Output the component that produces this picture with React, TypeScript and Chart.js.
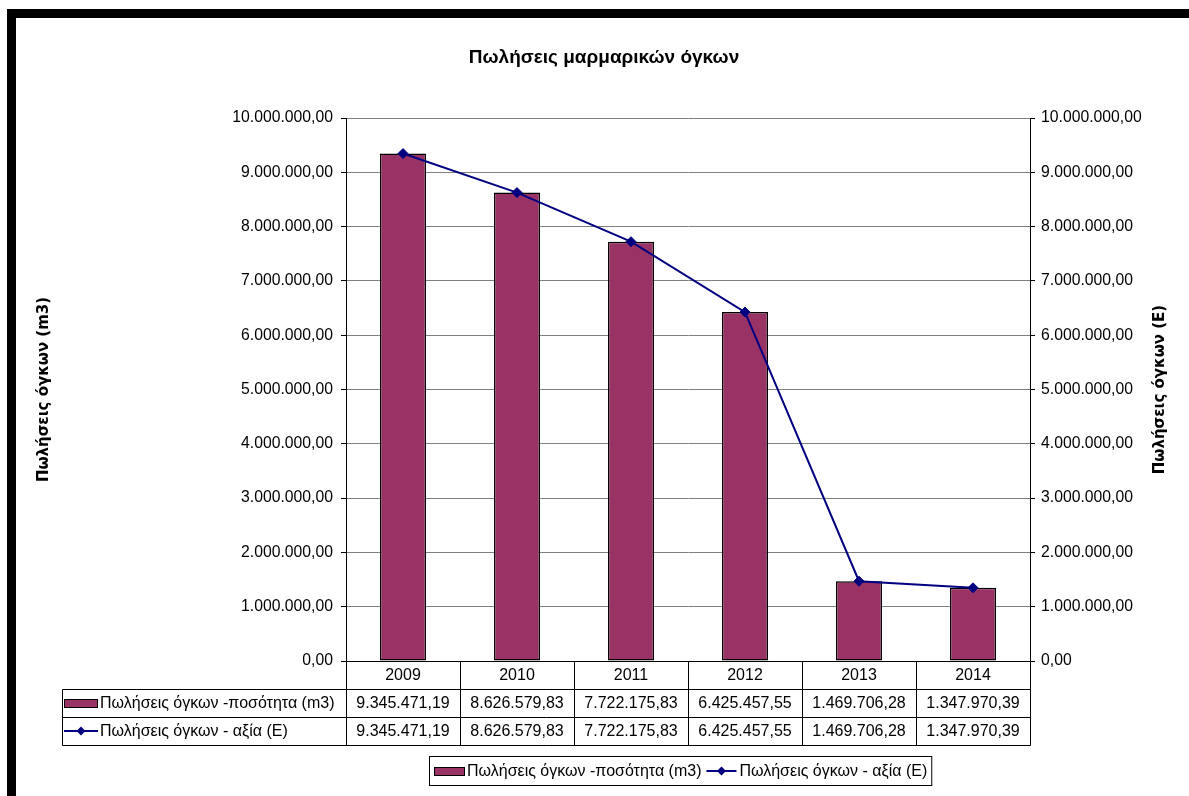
import React, { useEffect, useRef } from 'react';
import { Chart, registerables } from 'chart.js';

Chart.register(...registerables);

const categories = ['2009', '2010', '2011', '2012', '2013', '2014'];
const quantityValues = [9345471.19, 8626579.83, 7722175.83, 6425457.55, 1469706.28, 1347970.39];
const valueValues = [9345471.19, 8626579.83, 7722175.83, 6425457.55, 1469706.28, 1347970.39];

const axisMin = 0;
const axisMax = 10000000;
const axisStep = 1000000;

const chartTitle = 'Πωλήσεις μαρμαρικών όγκων';
const leftAxisTitle = 'Πωλήσεις όγκων (m3)';
const rightAxisTitle = 'Πωλήσεις όγκων (Ε)';
const quantityLabel = 'Πωλήσεις όγκων -ποσότητα (m3)';
const valueLabel = 'Πωλήσεις όγκων - αξία (Ε)';

const BAR_COLOR = '#993366';
const LINE_COLOR = '#000080';
const FONT = '"Liberation Sans", Arial, sans-serif';
const TITLE_FONT = '"DejaVu Sans", Verdana, sans-serif';

function fmt(v: number): string {
  const [i, d] = Math.abs(v).toFixed(2).split('.');
  return (v < 0 ? '-' : '') + i.replace(/\B(?=(\d{3})+(?!\d))/g, '.') + ',' + d;
}

const decorPlugin = {
  id: 'decor',
  beforeDraw(chart: any) {
    const ctx = chart.ctx;
    ctx.save();
    ctx.fillStyle = '#ffffff';
    ctx.fillRect(0, 0, chart.width, chart.height);
    ctx.fillStyle = '#000000';
    ctx.fillRect(7, 9, chart.width - 7, 9);
    ctx.fillRect(7, 9, 9, chart.height - 9);
    ctx.restore();
  },
  afterDraw(chart: any) {
    const ctx = chart.ctx;
    const area = chart.chartArea;
    const xs = chart.scales.x;
    const n = categories.length;
    const ds = chart.data.datasets;

    // chart title
    ctx.save();
    ctx.fillStyle = '#000000';
    ctx.font = 'bold 19px ' + FONT;
    ctx.textAlign = 'center';
    ctx.textBaseline = 'middle';
    ctx.fillText(chartTitle, 604, 58);
    ctx.restore();

    // column boundaries from the category scale
    const centers = categories.map((_, i) => xs.getPixelForValue(i));
    const bounds: number[] = [area.left];
    for (let i = 0; i < n - 1; i++) bounds.push((centers[i] + centers[i + 1]) / 2);
    bounds.push(area.right);

    const rowH = 28;
    const y0 = area.bottom;
    const y1 = y0 + rowH;
    const y2 = y1 + rowH;
    const y3 = y2 + rowH;
    const tableLeft = 62;

    const al = (v: number) => Math.round(v) + 0.5;

    ctx.save();
    ctx.strokeStyle = '#000000';
    ctx.lineWidth = 1;
    ctx.beginPath();
    ctx.moveTo(al(area.left), al(y0));
    ctx.lineTo(al(area.right), al(y0));
    [y1, y2, y3].forEach((y) => {
      ctx.moveTo(al(tableLeft), al(y));
      ctx.lineTo(al(area.right), al(y));
    });
    ctx.moveTo(al(tableLeft), al(y1));
    ctx.lineTo(al(tableLeft), al(y3));
    bounds.forEach((b) => {
      ctx.moveTo(al(b), al(y0));
      ctx.lineTo(al(b), al(y3));
    });
    ctx.stroke();

    ctx.fillStyle = '#000000';
    ctx.font = '16px ' + FONT;
    ctx.textAlign = 'center';
    ctx.textBaseline = 'middle';
    categories.forEach((c, i) => ctx.fillText(c, centers[i], (y0 + y1) / 2 + 1));
    ds[1].data.forEach((v: number, i: number) => ctx.fillText(fmt(v), centers[i], (y1 + y2) / 2 + 1));
    ds[0].data.forEach((v: number, i: number) => ctx.fillText(fmt(v), centers[i], (y2 + y3) / 2 + 1));

    const drawBarSwatch = (x: number, yc: number, w: number) => {
      ctx.fillStyle = BAR_COLOR;
      ctx.fillRect(x, yc - 4, w, 8);
      ctx.strokeStyle = '#000000';
      ctx.lineWidth = 1;
      ctx.strokeRect(x + 0.5, yc - 4 + 0.5, w, 8);
    };
    const drawLineSwatch = (x: number, yc: number, w: number) => {
      ctx.strokeStyle = LINE_COLOR;
      ctx.lineWidth = 2;
      ctx.beginPath();
      ctx.moveTo(x, yc);
      ctx.lineTo(x + w, yc);
      ctx.stroke();
      const cx = x + w / 2;
      ctx.fillStyle = LINE_COLOR;
      ctx.beginPath();
      ctx.moveTo(cx, yc - 4.5);
      ctx.lineTo(cx + 4.5, yc);
      ctx.lineTo(cx, yc + 4.5);
      ctx.lineTo(cx - 4.5, yc);
      ctx.closePath();
      ctx.fill();
    };

    ctx.textAlign = 'left';
    const r1c = (y1 + y2) / 2;
    const r2c = (y2 + y3) / 2;
    drawBarSwatch(tableLeft + 2, Math.round(r1c), 33);
    ctx.fillStyle = '#000000';
    ctx.fillText(ds[1].label, tableLeft + 38, r1c + 1);
    drawLineSwatch(tableLeft + 2, Math.round(r2c), 34);
    ctx.fillStyle = '#000000';
    ctx.fillText(ds[0].label, tableLeft + 38, r2c + 1);

    // legend box
    const t1w = ctx.measureText(ds[1].label).width;
    const t2w = ctx.measureText(ds[0].label).width;
    const sw = 30;
    const legW = 5 + sw + 3 + t1w + 5 + sw + 3 + t2w + 4;
    const legCx = 680;
    const legL = Math.round(legCx - legW / 2);
    const legT = 756;
    const legH = 29;
    const legC = legT + legH / 2;
    ctx.strokeStyle = '#000000';
    ctx.lineWidth = 1;
    ctx.strokeRect(legL + 0.5, legT + 0.5, legW, legH);
    let lx = legL + 5;
    drawBarSwatch(lx, Math.round(legC), sw);
    lx += sw + 3;
    ctx.fillStyle = '#000000';
    ctx.fillText(ds[1].label, lx, legC + 1);
    lx += t1w + 5;
    drawLineSwatch(lx, Math.round(legC), sw);
    lx += sw + 3;
    ctx.fillStyle = '#000000';
    ctx.fillText(ds[0].label, lx, legC + 1);

    // axis titles (both read bottom-to-top)
    const midY = (area.top + area.bottom) / 2;
    ctx.font = 'bold 15px ' + TITLE_FONT;
    ctx.textAlign = 'center';
    ctx.textBaseline = 'middle';
    [[44, leftAxisTitle], [1160, rightAxisTitle]].forEach(([x, t]) => {
      ctx.save();
      ctx.translate(x as number, midY);
      ctx.rotate(-Math.PI / 2);
      ctx.fillText(t as string, 0, 0);
      ctx.restore();
    });
    ctx.restore();
  },
};

export default function App() {
  const ref = useRef<HTMLCanvasElement | null>(null);

  useEffect(() => {
    document.body.style.margin = '0';
    const canvas = ref.current;
    if (!canvas) return;
    const tickFont = { family: FONT, size: 15.75 };
    const chart = new Chart(canvas, {
      type: 'bar',
      data: {
        labels: categories,
        datasets: [
          {
            type: 'line',
            label: valueLabel,
            data: valueValues,
            yAxisID: 'y2',
            borderColor: LINE_COLOR,
            backgroundColor: LINE_COLOR,
            borderWidth: 2,
            pointStyle: 'rectRot',
            pointRadius: 5,
            pointBackgroundColor: LINE_COLOR,
            pointBorderColor: LINE_COLOR,
            pointBorderWidth: 1,
            tension: 0,
            order: 1,
          } as any,
          {
            type: 'bar',
            label: quantityLabel,
            data: quantityValues,
            yAxisID: 'y',
            backgroundColor: BAR_COLOR,
            borderColor: '#000000',
            borderWidth: 1.5,
            borderSkipped: false,
            categoryPercentage: 1,
            barPercentage: 0.405,
            order: 2,
          } as any,
        ],
      },
      options: {
        animation: false,
        responsive: false,
        maintainAspectRatio: false,
        layout: { padding: { top: 118, left: 0, right: 0, bottom: 135 } },
        plugins: {
          legend: { display: false },
          tooltip: { enabled: false },
          title: { display: false },
        },
        scales: {
          x: {
            type: 'category',
            display: false,
            offset: true,
          },
          y: {
            position: 'left',
            min: axisMin,
            max: axisMax,
            ticks: {
              stepSize: axisStep,
              callback: (v: any) => fmt(Number(v)),
              color: '#000000',
              font: tickFont,
              padding: 8,
            },
            grid: { color: '#808080', tickColor: '#000000', tickLength: 5, lineWidth: 1 },
            border: { color: '#000000', width: 1 },
            afterFit: (s: any) => {
              s.width = 346;
            },
          },
          y2: {
            position: 'right',
            min: axisMin,
            max: axisMax,
            ticks: {
              stepSize: axisStep,
              callback: (v: any) => fmt(Number(v)),
              color: '#000000',
              font: tickFont,
              padding: 6,
            },
            grid: { drawOnChartArea: false, color: '#000000', tickLength: 5 },
            border: { color: '#000000', width: 1 },
            afterFit: (s: any) => {
              s.width = 159;
            },
          },
        },
      } as any,
      plugins: [decorPlugin],
    });
    return () => chart.destroy();
  }, []);

  return (
    <div style={{ width: 1189, height: 796, position: 'relative' }}>
      <canvas ref={ref} width={1189} height={796} style={{ display: 'block', width: 1189, height: 796 }} />
    </div>
  );
}
